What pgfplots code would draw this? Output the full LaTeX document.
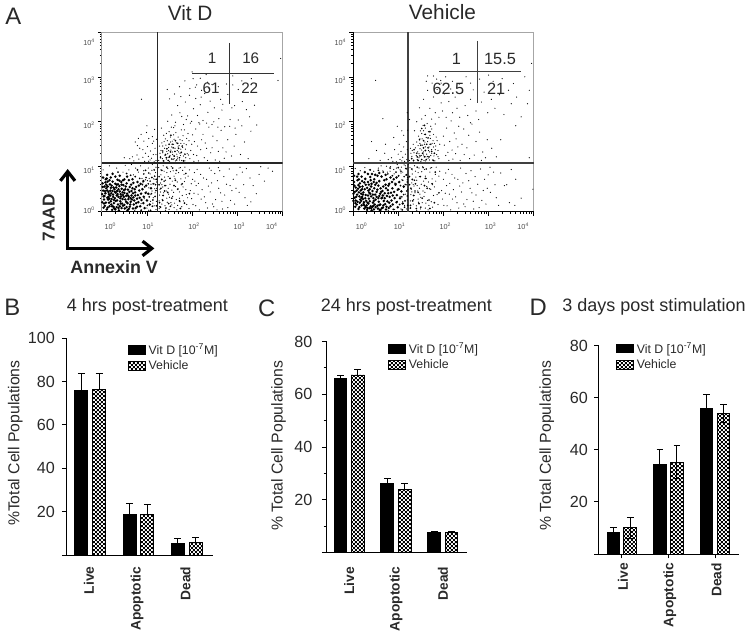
\documentclass[border=0pt]{standalone}
\usepackage{fontspec}
\setmainfont{Liberation Sans}
\usepackage{pgfplots}
\pgfplotsset{compat=1.18}
\usetikzlibrary{arrows.meta,patterns}
\pgfdeclarepatternformonly{mycheck}{\pgfqpoint{0pt}{0pt}}{\pgfqpoint{3pt}{3pt}}{\pgfqpoint{3pt}{3pt}}{
 \pgfpathrectangle{\pgfqpoint{0pt}{0pt}}{\pgfqpoint{1.5pt}{1.5pt}}
 \pgfpathrectangle{\pgfqpoint{1.5pt}{1.5pt}}{\pgfqpoint{1.5pt}{1.5pt}}
 \pgfusepath{fill}}
\definecolor{ink}{gray}{0.16}
\newcommand{\XL}[2]{\rule{#1pt}{0pt}10\textsuperscript{#2}}
\newcommand{\YL}[2]{\raisebox{#1pt}[0pt][0pt]{10\textsuperscript{#2}}}
\pgfplotsset{
 flow/.style={scale only axis,width=136.5pt,height=135.75pt,xmin=0,xmax=4,ymin=0,ymax=4,
  axis line style={gray!70,line width=.6pt},
  tick align=outside,tick pos=left,
  xtick={0,1,2,3,4},ytick={0,1,2,3,4},
  minor xtick={.301,.477,.602,.699,.778,.845,.903,.954,1.301,1.477,1.602,1.699,1.778,1.845,1.903,1.954,2.301,2.477,2.602,2.699,2.778,2.845,2.903,2.954,3.301,3.477,3.602,3.699,3.778,3.845,3.903,3.954},
  minor ytick={.301,.477,.602,.699,.778,.845,.903,.954,1.301,1.477,1.602,1.699,1.778,1.845,1.903,1.954,2.301,2.477,2.602,2.699,2.778,2.845,2.903,2.954,3.301,3.477,3.602,3.699,3.778,3.845,3.903,3.954},
  major tick length=3pt,minor tick length=1.5pt,
  tick style={black,line width=.5pt},
  xticklabels={\XL{13}{0},\XL{2}{1},\XL{3}{2},\XL{3}{3},10\textsuperscript{4}\rule{16pt}{0pt}},
  yticklabels={\YL{-1}{0},\YL{-5}{1},\YL{-5}{2},\YL{-5}{3},\YL{-10}{4}},
  ticklabel style={font=\fontsize{5.5}{6}\selectfont,text=gray!60!black,inner sep=1pt},
  xticklabel style={yshift=-4.5pt},
  yticklabel style={xshift=-1pt},
  clip=true},
 fine/.style={only marks,mark=*,mark size=.46pt,black,mark options={draw opacity=0,fill=black}},
 mid/.style={only marks,mark=*,mark size=.72pt,black,mark options={draw opacity=0,fill=black}},
 core/.style={only marks,mark=*,mark size=1.05pt,black,mark options={draw opacity=0,fill=black}},
 barax/.style={scale only axis,ybar,axis x line*=bottom,axis y line*=left,
  axis line style={black,line width=.75pt,-},tick style={black,line width=.75pt},
  tick align=outside,major tick length=3.2pt,minor tick length=2pt,
  ymin=0,xtick={0,1,2},xticklabels={Live,Apoptotic,Dead},
  x tick label style={rotate=90,anchor=east,font=\fontsize{10.4}{12}\selectfont\bfseries,text=ink},
  y tick label style={font=\fontsize{12.2}{14}\selectfont,text=ink,inner sep=2pt},
  legend cell align=left,
  legend image code/.code={\fill[##1] (0pt,-3.2pt) rectangle (13.2pt,3.2pt);},
  legend style={draw=none,fill=none,inner sep=0pt,outer sep=0pt,anchor=north west,font=\fontsize{9.3}{11}\selectfont,text=ink,row sep=-.8pt,
   /tikz/every even column/.append style={column sep=10.5pt}}},
 ylab/.style 2 args={every axis y label/.style={at={(axis description cs:#1,#2)},rotate=90,anchor=center,font=\fontsize{11.9}{14}\selectfont,text=ink}},
 vit/.style={fill=black,draw=black,line width=.75pt},
 veh/.style={pattern=mycheck,pattern color=black,draw=black,line width=.75pt},
 eb/.style={error bars/.cd,y dir=plus,y explicit,error mark options={rotate=90,mark size=#1,line width=.75pt,black},error bar style={line width=.75pt,black}},
 ebb/.style={error bars/.cd,y dir=both,y explicit,error mark options={rotate=90,mark size=#1,line width=.75pt,black},error bar style={line width=.75pt,black}},
}
\begin{document}
\begin{tikzpicture}[x=.75pt,y=.75pt]
\path (0,0) rectangle (750,633);
% ---- panel A, Vit D
\begin{axis}[flow,at={(75pt,316.5pt)},anchor=south west]
\addplot[core] coordinates {
(.31,.42)(.07,.13)(.52,.27)(.18,.61)(.44,.08)(.66,.36)(.03,.47)(.27,.19)(.39,.57)(.12,.31)(.58,.49)(.23,.04)(.71,.16)(.35,.71)(.09,.72)(.47,.37)(.62,.11)(.15,.44)(.29,.3)(.78,.29)(.41,.23)(.05,.27)(.55,.63)(.2,.53)(.33,.1)(.68,.52)(.11,.05)(.49,.48)(.25,.38)(.85,.12)
(.37,.33)(.16,.2)(.6,.33)(.02,.63)(.43,.66)(.74,.43)(.28,.5)(.5,.15)(.08,.41)(.64,.22)(.22,.28)(.36,.16)(.56,.4)(.13,.67)(.8,.37)(.46,.28)(.04,.09)(.3,.62)(.69,.07)(.19,.36)(.53,.56)(.4,.45)(.1,.52)(.76,.55)(.26,.11)(.61,.44)(.34,.25)(.88,.26)(.17,.12)(.48,.59)
(.06,.35)(.38,.03)(.72,.25)(.24,.46)(.57,.19)(.14,.27)(.42,.39)(.83,.47)(.32,.54)(.01,.21)(.65,.6)(.21,.16)(.51,.07)(.92,.19)(.1,.6)(.45,.18)(.28,.07)(.75,.08)(.37,.5)(.59,.28)(.16,.39)(.7,.32)(.06,.56)(.24,.67)(.54,.35)(.33,.36)(.81,.21)(.13,.09)(.41,.3)(.62,.55)
(.2,.23)(.47,.13)(.04,.34)(.29,.44)(.87,.4)(.36,.61)(.55,.1)(.12,.47)(.67,.27)(.25,.33)(.44,.51)(.09,.2)(.73,.5)(.34,.46)(.17,.7)(.58,.36)(.02,.55)(.4,.12)(.78,.11)(.22,.58)(.5,.42)(.31,.24)(.63,.16)(.08,.65)(.93,.33)(.43,.34)(.15,.33)(.7,.64)(.27,.26)(.57,.03)
(.11,.74)(.39,.69)(.66,.46)(.23,.12)(.52,.5)(.05,.18)(.35,.39)(.84,.31)(.46,.43)(.19,.47)(.6,.06)(.3,.05)(.76,.19)(.13,.56)(.42,.18)(.97,.42)(.26,.54)(.54,.22)(.07,.46)(.69,.41)(.37,.08)(.17,.29)(.49,.33)(.82,.58)(.33,.6)(.01,.39)(.64,.3)(.21,.41)(.44,.6)(.74,.36)
(.9,.5)(1.0,.25)(.95,.08)(1.03,.4)(.86,.62)(.98,.58)(.79,.66)(.6,.7)(.5,.72)(.3,.78)(.12,.82)(.03,.76)(.2,.76)(.4,.8)(.68,.72)(.92,.68)(1.06,.16)(1.09,.52)(.24,.84)(.56,.78)(.47,.7)};
\addplot[mid] coordinates {
(1.05,.33)(.9,.6)(1.12,.12)(.98,.76)(1.18,.34)(1.07,.68)(.84,.74)(1.15,.62)(1.01,.14)(1.2,.47)(.95,.55)(1.1,.4)(.87,.03)(1.17,.79)(1.04,.86)(.74,.78)(1.13,.26)(.93,.84)(1.21,.13)(1.08,.03)(.64,.81)(1.19,.6)(.97,.92)(.79,.93)(1.11,.76)(.55,.85)(1.03,.62)(1.16,.93)(.36,.88)(1.21,.72)
(1.28,.2)(1.4,.58)(1.33,.92)(1.52,.12)(1.36,.36)(1.63,.7)(1.27,.78)(1.46,.43)(1.72,.24)(1.31,.52)(1.57,.97)(1.42,.08)(1.78,.62)(1.3,.1)(1.55,.3)(1.38,.68)(1.68,.5)(1.44,.99)(1.86,.85)(1.35,.25)(1.6,.58)(1.48,.18)(1.94,.4)(1.27,.6)(1.74,.07)(1.51,.74)(1.39,.46)(1.83,.19)(1.65,.92)(1.33,.72)
(1.37,1.13)(1.5,1.22)(1.62,1.34)(1.44,1.4)(1.72,1.2)(1.56,1.5)(1.3,1.2)(1.66,1.15)(1.78,1.46)(1.52,1.33)(1.41,1.27)(1.6,1.24)(1.84,1.28)(1.47,1.14)(1.7,1.41)(1.35,1.35)(1.55,1.17)(1.63,1.58)(1.76,1.32)(1.49,1.5)(1.81,1.13)(1.58,1.42)(1.68,1.52)(1.43,1.2)(1.53,1.7)};
\addplot[fine] coordinates {
(.03,.93)(.17,1.02)(.24,.86)(.33,.97)(.47,.88)(.52,1.03)(.6,.93)(.66,1.05)(.7,.82)(.75,.97)(.81,.88)(.86,1.02)(.89,.74)(.93,.91)(1.01,.69)(1.03,.97)(1.07,.84)(1.09,.61)(1.11,.92)(1.12,1.05)(1.15,.73)(1.17,.51)(1.19,.87)(1.21,.66)(1.2,.99)(.99,.44)(1.04,.53)(1.07,.38)(1.11,.46)(1.14,.31)(1.18,.42)(1.21,.23)(1.16,.13)(1.08,.23)(1.0,.08)(.94,.29)(.87,.18)(1.13,.62)(1.18,.72)(1.05,.74)(.97,.71)(.91,.64)(1.21,.52)(1.04,.03)(1.13,.19)(1.2,.05)(.73,.03)(.88,.04)(.56,.03)
(.88,2.5)(.74,1.55)(.79,1.47)(.81,1.63)(.84,1.41)(.87,1.72)(.91,1.38)(.93,1.57)(.97,1.3)(.99,1.76)(1.01,1.45)(1.03,1.23)(1.04,1.63)(1.08,1.35)(1.1,1.19)(1.12,1.52)(1.14,1.27)(1.17,1.83)(1.18,1.41)(1.2,1.14)(1.21,1.61)(.62,1.18)(.5,1.2)(.71,1.13)(.82,1.17)(.95,1.12)(1.0,1.91)(1.07,1.15)(1.16,1.11)(1.2,1.27)(1.12,1.67)(1.04,1.12)(.78,1.26)(.68,1.22)(.91,1.21)(1.15,1.57)
(1.53,1.37)(1.3,1.22)(1.72,1.15)(1.41,1.62)(1.66,1.28)(1.36,1.13)(1.87,1.49)(1.47,1.21)(1.59,1.71)(1.75,1.39)(1.28,1.46)(1.63,1.13)(1.44,1.34)(1.81,1.24)(1.52,1.55)(1.69,1.66)(1.35,1.31)(1.95,1.18)(1.57,1.27)(1.78,1.58)(1.43,1.17)(1.91,1.74)(1.62,1.41)(1.33,1.53)(1.74,1.25)(1.49,1.78)(1.84,1.13)(1.55,1.44)(1.68,1.19)(1.39,1.41)(1.97,1.36)(1.6,1.61)(1.46,1.29)(1.8,1.69)(1.71,1.47)(1.26,1.14)(1.58,1.16)(1.89,1.29)(1.37,1.7)(1.65,1.53)(1.5,1.12)(1.76,1.82)(1.42,1.48)(1.93,1.58)(1.61,1.23)(1.31,1.36)(1.85,1.39)(1.54,1.88)(1.67,1.36)(1.48,1.43)(1.99,1.5)(1.73,1.6)(1.56,1.33)(1.4,1.25)(1.82,1.52)(1.64,1.76)(1.51,1.25)(1.77,1.14)(1.34,1.18)(1.7,1.33)(1.45,1.58)(1.88,1.63)(1.59,1.5)(1.79,1.43)(1.38,1.56)(1.62,1.91)(1.92,1.26)(1.52,1.66)(1.67,1.22)(1.43,1.74)(1.75,1.52)(1.29,1.3)(1.6,1.18)(1.83,1.82)(1.48,1.36)(1.69,1.44)(1.56,1.57)(1.86,1.2)(1.35,1.46)(1.73,1.3)
(2.03,1.27)(2.46,1.68)(2.14,1.13)(2.71,1.19)(2.29,1.53)(2.08,1.84)(2.58,1.34)(2.19,1.38)(2.93,1.46)(2.34,1.14)(2.05,1.56)(2.64,1.81)(2.24,1.72)(3.07,1.27)(2.41,1.31)(2.12,1.46)(2.79,1.6)(2.51,1.15)(2.17,1.95)(2.87,1.24)(2.37,1.88)(2.01,1.71)(2.68,1.42)(3.16,1.55)(2.27,1.2)(2.55,1.58)(2.1,1.25)(2.83,1.9)(2.44,1.42)(2.97,1.72)(2.21,1.6)(2.61,1.12)(2.32,1.41)(3.24,1.18)(2.75,1.33)(2.04,1.12)(2.48,2.0)
(1.32,1.86)(2.12,2.14)(1.46,2.01)(2.66,2.26)(1.55,2.15)(1.96,1.97)(3.02,2.04)(1.68,2.36)(2.35,2.21)(1.81,1.94)(2.52,2.72)(1.59,1.87)(2.88,2.31)(1.85,2.44)(2.18,2.38)(3.27,2.11)(1.94,2.59)(2.44,1.94)(1.73,2.2)(2.72,1.89)(2.03,2.29)(3.11,2.45)(2.28,2.63)(1.9,2.13)(2.59,2.07)(1.63,1.99)(2.94,2.36)(2.08,2.52)(3.38,2.37)(2.24,2.03)(2.79,2.61)(2.4,2.46)(1.99,2.01)(3.2,2.27)(2.63,2.5)(2.15,1.98)(3.43,1.93)(2.49,2.31)(3.3,1.79)(2.32,1.97)(2.07,2.77)(1.77,2.12)(2.57,1.88)(2.84,2.05)(2.95,1.86)(2.2,2.55)(3.1,1.91)(2.37,2.75)(1.87,2.05)(2.68,2.39)
(1.5,2.51)(1.45,2.72)(1.61,2.62)(1.72,2.78)(1.84,2.91)(1.95,2.74)(2.02,2.96)(2.1,2.82)(2.18,2.97)(2.21,2.7)(2.34,2.88)(2.44,2.83)(2.58,2.78)(2.76,2.84)(2.9,2.82)(3.1,2.91)(3.31,2.96)(3.42,2.84)(2.0,3.11)(2.31,3.05)(3.9,2.92)(3.96,3.41)(1.75,2.56)(3.02,2.72)(2.9,3.02)
(1.27,.07)(1.72,.44)(1.31,.82)(2.02,.16)(1.44,.3)(1.58,.91)(1.35,.55)(1.83,.67)(1.49,.05)(1.65,.27)(1.28,.37)(1.94,.93)(1.41,.7)(1.77,.11)(1.55,.48)(1.33,.17)(2.09,.58)(1.62,.74)(1.46,.96)(1.87,.38)(1.3,.64)(1.7,.87)(1.53,.2)(1.38,.9)(1.99,.29)(1.8,.55)(1.26,.98)(1.6,.09)(1.43,.46)(1.75,.73)(1.34,.27)(1.91,.79)(1.51,.61)(1.68,.14)(1.29,.5)(2.05,.87)(1.57,.34)(1.4,.13)(1.84,.99)(1.63,.56)(1.47,.78)(1.73,.22)(1.36,1.02)(1.96,.47)(1.52,.89)(1.78,.36)(1.32,.71)(1.66,.04)(1.42,.58)(1.88,.16)(1.56,.68)(1.27,.24)(1.71,.97)(1.48,.39)(2.01,.72)(1.61,.19)(1.37,.42)(1.82,.83)(1.54,1.0)(1.69,.51)(1.31,.93)(1.93,.07)(1.45,.21)(1.76,.6)(1.59,.43)(1.39,.77)(1.86,.49)(1.64,.85)(1.28,.11)(1.5,.32)(1.74,.98)(1.98,.62)(1.35,.36)(1.81,.24)(1.44,.87)(1.67,.66)(1.55,.15)(1.9,.31)(1.33,.6)(1.72,.3)(1.47,.52)(1.6,.79)(1.85,.75)(1.41,.03)(1.79,.92)(1.3,.44)
(2.13,.39)(2.76,.61)(2.34,.08)(2.19,.83)(3.04,.43)(2.52,.27)(2.08,.13)(2.91,.72)(2.43,.64)(2.27,.33)(3.22,.14)(2.61,.91)(2.14,.63)(2.85,.25)(2.38,.97)(2.67,.06)(2.22,.49)(3.11,.88)(2.48,.11)(2.04,.41)(2.97,.52)(2.56,.69)(2.3,.2)(3.35,.58)(2.72,.37)(2.16,.04)(2.82,.95)(2.4,.44)(3.17,.31)(2.59,.52)(2.25,.75)(3.48,.83)(2.94,.17)(2.11,.94)(2.66,.23)(2.36,.57)(3.28,.75)(2.79,.09)(2.5,.85)(2.2,.28)(3.06,.99)(2.63,.42)(3.6,.68)(2.88,.47)(2.45,.17)(3.42,.4)(2.7,.78)(2.32,.72)(3.78,.9)(3.14,.6)(2.55,.04)(2.99,.82)(3.52,1.0)(2.06,.68)(2.42,.92)(3.68,.97)(3.3,.22)(3.2,.96)(2.58,.98)(2.84,.58)
};
\draw[black,line width=.8pt] (rel axis cs:0,0)--(rel axis cs:0,1);
\draw[black,line width=.8pt] (rel axis cs:0,0)--(rel axis cs:1,0);
\draw[black!85,line width=1pt] (axis cs:1.23,0)--(axis cs:1.23,4);
\draw[black!85,line width=1pt] (axis cs:0,1.08)--(axis cs:4,1.08);
\end{axis}
% ---- panel A, Vehicle
\begin{axis}[flow,at={(264.75pt,316.5pt)},anchor=south west]
\addplot[core] coordinates {
(.35,.29)(.08,.16)(.57,.22)(.21,.56)(.46,.05)(.7,.41)(.04,.44)(.3,.14)(.41,.62)(.14,.34)(.61,.52)(.25,.07)(.74,.11)(.38,.77)(.1,.7)(.49,.38)(.66,.09)(.17,.47)(.33,.36)(.81,.33)(.44,.2)(.06,.25)(.58,.68)(.23,.43)(.36,.08)(.72,.6)(.12,.06)(.52,.44)(.27,.3)(.88,.16)
(.4,.34)(.18,.24)(.64,.31)(.02,.66)(.47,.72)(.77,.48)(.31,.53)(.54,.13)(.09,.38)(.68,.24)(.24,.21)(.39,.12)(.6,.4)(.15,.63)(.84,.42)(.5,.27)(.05,.11)(.33,.66)(.73,.05)(.2,.33)(.56,.58)(.43,.46)(.11,.51)(.8,.62)(.28,.1)(.65,.46)(.37,.23)(.92,.3)(.19,.14)(.52,.64)
(.07,.33)(.41,.03)(.76,.23)(.26,.5)(.6,.16)(.15,.2)(.45,.3)(.87,.52)(.34,.47)(.01,.24)(.69,.7)(.23,.17)(.55,.07)(.96,.21)(.12,.59)(.48,.16)(.31,.04)(.79,.08)(.4,.56)(.63,.3)(.18,.4)(.75,.35)(.06,.54)(.27,.73)(.58,.35)(.36,.42)(.85,.25)(.14,.1)(.44,.38)(.67,.56)
(.22,.28)(.5,.1)(.04,.31)(.32,.2)(.91,.44)(.39,.7)(.59,.04)(.13,.43)(.71,.17)(.28,.37)(.47,.52)(.1,.22)(.78,.58)(.37,.5)(.19,.78)(.62,.44)(.03,.58)(.43,.11)(.83,.12)(.25,.65)(.54,.49)(.34,.18)(.67,.14)(.09,.78)(.97,.37)(.46,.24)(.16,.27)(.74,.72)(.29,.24)(.61,.04)
(.12,.84)(.42,.84)(.7,.3)(.25,.14)(.56,.3)(.05,.19)(.38,.4)(.88,.36)(.49,.6)(.2,.5)(.64,.08)(.32,.08)(.8,.2)(.15,.55)(.45,.13)(1.0,.5)(.28,.6)(.58,.15)(.08,.47)(.73,.52)(.4,.08)(.19,.31)(.52,.33)(.86,.66)(.35,.6)(.01,.4)(.66,.36)(.22,.38)(.46,.66)(.78,.41)
(.94,.6)(1.04,.3)(.99,.1)(1.07,.45)(.9,.72)(1.02,.66)(.83,.76)(.63,.78)(.54,.8)(.33,.84)(.02,.8)(.2,.68)(.72,.82)(.96,.76)(1.1,.18)(1.12,.56)(.26,.88)(.58,.86)(.49,.82)(.13,.72)};
\addplot[mid] coordinates {
(1.08,.33)(.93,.63)(1.14,.1)(1.01,.8)(1.2,.35)(1.1,.7)(.87,.8)(1.17,.6)(1.03,.16)(1.19,.46)(.98,.48)(1.12,.38)(.89,.05)(1.18,.82)(1.06,.9)(.77,.84)(1.15,.24)(.95,.88)(1.21,.14)(1.09,.04)(.67,.88)(1.2,.66)(1.0,.98)(.82,.97)(1.13,.78)(.56,.92)(1.05,.58)(1.17,.96)(.38,.93)(1.21,.76)
(1.27,.14)(1.38,.62)(1.3,.95)(1.5,.1)(1.34,.36)(1.6,.74)(1.25,.78)(1.44,.43)(1.68,.26)(1.28,.52)(1.55,.98)(1.4,.07)(1.75,.62)(1.27,.08)(1.53,.3)(1.36,.7)(1.64,.52)(1.42,.99)(1.82,.88)(1.32,.24)(1.58,.58)(1.46,.18)(1.9,.42)(1.25,.6)(1.7,.07)(1.49,.78)(1.37,.46)(1.8,.2)(1.62,.95)(1.31,.72)
(1.34,1.14)(1.48,1.24)(1.6,1.36)(1.5,1.48)(1.68,1.22)(1.56,1.58)(1.3,1.18)(1.62,1.16)(1.72,1.5)(1.54,1.3)(1.41,1.3)(1.58,1.22)(1.8,1.3)(1.44,1.14)(1.66,1.42)(1.35,1.38)(1.52,1.16)(1.6,1.72)(1.74,1.34)(1.47,1.6)(1.78,1.14)(1.56,1.42)(1.66,1.64)(1.42,1.22)(1.52,1.85)(1.63,1.5)(1.7,1.78)(1.58,1.92)};
\addplot[fine] coordinates {
(.05,.96)(.16,.91)(.26,.98)(.36,.93)(.46,.9)(.56,.97)(.66,.91)(.76,.88)(.83,1.0)(.91,.84)(.96,.97)(1.0,.79)(1.04,.93)(1.08,.71)(1.1,.88)(1.13,1.04)(1.15,.61)(1.17,.81)(1.19,.95)(1.21,.49)(1.16,.39)(1.2,.26)(1.14,.14)(1.18,.06)(1.06,.06)(.92,.05)(.78,.02)(.98,.23)(1.04,.34)(1.12,.54)(1.2,.71)(1.07,.99)(.98,1.05)(.74,1.01)(.62,1.02)(1.16,1.02)(1.06,.86)(.9,.94)(.82,.9)(1.22,1.06)(1.03,.5)(.96,.62)(1.1,.22)
(.5,2.92)(.66,2.07)(.41,1.56)(.9,1.65)(.85,1.2)(.92,1.38)(.96,1.11)(1.0,1.28)(1.02,1.5)(1.04,1.16)(1.06,1.34)(1.08,1.8)(1.1,1.21)(1.12,1.44)(1.14,1.12)(1.16,1.28)(1.18,1.56)(1.19,1.16)(1.2,1.38)(1.21,1.81)(.6,1.14)(.7,1.3)(.78,1.16)(.72,1.5)(.52,1.36)(.35,1.18)(.98,1.9)(1.12,1.7)(.88,1.12)(1.08,1.13)
(1.52,1.37)(1.3,1.23)(1.69,1.15)(1.41,1.55)(1.63,1.28)(1.34,1.13)(1.83,1.46)(1.46,1.2)(1.58,1.72)(1.74,1.38)(1.27,1.41)(1.6,1.13)(1.43,1.33)(1.79,1.24)(1.53,1.62)(1.67,1.78)(1.35,1.31)(1.9,1.18)(1.56,1.26)(1.77,1.58)(1.42,1.16)(1.72,1.9)(1.6,1.44)(1.33,1.5)(1.72,1.25)(1.49,1.8)(1.81,1.13)(1.54,1.48)(1.66,1.19)(1.38,1.42)(1.88,1.36)(1.62,1.65)(1.46,1.29)(1.78,1.72)(1.7,1.5)(1.25,1.14)(1.57,1.14)(1.85,1.27)(1.48,1.62)(1.65,1.56)(1.5,1.12)(1.74,1.84)(1.44,1.47)(1.86,1.58)(1.61,1.22)(1.31,1.36)(1.82,1.38)(1.55,1.92)(1.67,1.36)(1.48,1.4)(1.92,1.5)(1.71,1.63)(1.56,1.33)(1.4,1.25)(1.8,1.52)(1.64,1.96)(1.51,1.25)(1.76,1.15)(1.59,1.55)(1.69,1.33)(1.45,1.68)(1.84,1.66)(1.58,1.5)(1.78,1.44)(1.52,1.74)(1.6,1.86)(1.88,1.22)(1.7,1.7)(1.65,1.23)(1.56,1.8)(1.75,1.52)(1.28,1.3)(1.82,1.95)(1.48,1.52)(1.68,1.44)(1.74,1.3)
(2.02,1.48)(2.46,1.27)(2.12,1.14)(2.72,1.56)(2.28,1.62)(2.07,1.86)(2.58,1.18)(2.19,1.37)(2.93,1.2)(2.34,1.9)(2.05,1.25)(2.63,1.95)(2.24,1.75)(3.07,1.41)(2.41,1.5)(2.14,1.56)(2.8,1.77)(2.52,1.42)(2.17,2.02)(2.87,1.33)(2.37,1.14)(2.0,1.68)(2.68,1.26)(3.17,1.22)(2.27,1.29)(2.56,1.7)(2.1,1.32)(2.84,1.14)(2.45,1.84)(2.97,1.6)(2.21,1.17)(3.27,1.6)(2.32,1.44)
(1.41,2.0)(2.12,2.45)(1.47,2.31)(2.66,2.71)(1.56,2.5)(1.95,2.42)(3.06,2.5)(1.65,2.7)(2.36,2.1)(1.82,2.2)(2.54,2.14)(1.52,2.06)(2.9,2.66)(1.86,2.72)(2.16,2.73)(3.34,2.16)(1.9,2.1)(2.42,2.66)(1.74,2.06)(2.78,2.05)(2.02,2.62)(3.14,2.3)(2.26,2.55)(1.6,2.14)(2.6,2.5)(1.7,2.3)(2.98,2.2)(2.06,2.1)(3.44,2.7)(2.2,2.2)(2.84,2.44)(2.48,2.36)(1.98,2.24)(3.24,2.6)(2.72,2.24)(1.78,2.55)(3.5,2.4)(2.3,2.3)(3.62,2.55)(3.72,2.11)(3.6,1.91)(3.86,2.4)(3.9,2.7)(1.94,2.92)(2.6,1.98)
(1.25,2.05)(1.36,1.8)(1.2,2.2)(1.75,2.86)(1.85,2.95)(1.62,2.9)(1.95,2.86)(2.05,3.0)(2.2,2.9)(2.35,2.84)(2.6,2.86)(2.8,2.95)(3.1,2.9)(3.3,2.96)(3.55,2.85)(3.8,3.0)(3.95,3.3)(1.65,3.02)(1.78,3.02)(2.5,3.0)(3.0,3.04)(3.9,1.2)(3.98,.5)
(1.27,.08)(1.72,.5)(1.31,.84)(2.01,.14)(1.44,.28)(1.58,.94)(1.35,.57)(1.83,.68)(1.49,.06)(1.65,.25)(1.28,.38)(1.92,.9)(1.41,.7)(1.76,.1)(1.55,.46)(1.33,.17)(2.07,.58)(1.62,.74)(1.46,.97)(1.86,.38)(1.3,.64)(1.7,.88)(1.53,.2)(1.38,.9)(1.98,.28)(1.8,.55)(1.26,.98)(1.6,.08)(1.43,.46)(1.75,.73)(1.34,.27)(1.9,.79)(1.51,.61)(1.68,.14)(1.29,.5)(2.05,.86)(1.57,.34)(1.4,.13)(1.84,.99)(1.63,.56)(1.47,.78)(1.73,.22)(1.36,1.02)(1.96,.47)(1.52,.89)(1.78,.36)(1.32,.71)(1.66,.04)(1.42,.58)(1.88,.16)(1.56,.68)(1.27,.24)(1.71,.97)(1.48,.39)(2.0,.72)(1.61,.19)(1.37,.42)(1.82,.83)(1.54,1.0)(1.69,.51)(1.31,.93)(1.45,.21)(1.76,.6)(1.59,.43)(1.39,.77)(1.5,.32)(1.74,.98)(1.35,.36)(1.44,.87)(1.67,.66)(1.33,.6)(1.47,.52)(1.6,.79)(1.41,.03)(1.3,.44)
(2.13,.39)(2.76,.61)(2.34,.08)(2.19,.83)(3.04,.43)(2.52,.27)(2.08,.13)(2.91,.72)(2.43,.64)(2.27,.33)(3.22,.14)(2.61,.91)(2.14,.63)(2.85,.25)(2.38,.97)(2.67,.06)(2.22,.49)(3.11,.88)(2.48,.11)(2.04,.41)(2.97,.52)(2.56,.69)(2.3,.2)(3.35,.58)(2.72,.37)(2.16,.04)(2.82,.95)(2.4,.44)(3.17,.31)(2.59,.52)(2.25,.75)(3.46,.2)(2.94,.17)(2.11,.94)(2.66,.23)(2.36,.57)(3.27,.86)(2.79,.09)(2.5,.85)(2.2,.28)(3.03,.99)(2.63,.42)(3.6,.72)(2.88,.47)(2.45,.17)(3.4,.6)(2.7,.78)(2.32,.72)(3.72,.3)(3.14,.6)(3.58,.14)(3.5,.94)(2.99,.82)
};
\draw[black,line width=.8pt] (rel axis cs:0,0)--(rel axis cs:0,1);
\draw[black,line width=.8pt] (rel axis cs:0,0)--(rel axis cs:1,0);
\draw[black!75,line width=1pt] (axis cs:1.215,0)--(axis cs:1.215,4);
\draw[black!75,line width=1pt] (axis cs:0,1.08)--(axis cs:4,1.08);
\end{axis}
% ---- panel B
\begin{axis}[barax,at={(48pt,57.2pt)},anchor=south west,width=111pt,height=163.8pt,
 xmin=-.505,xmax=2.546,ymax=100,ytick={0,20,40,60,80,100},yticklabels={,20,40,60,80,100},
 bar width=9.75pt,xtick style={draw=none},
 yticklabel style={xshift=-3pt},xticklabel style={xshift=-2pt,yshift=1pt},
 ylabel={\%Total Cell Populations},ylab={-.345}{.516},
 legend style={at={(axis cs:.773,98.8)}}]
\addplot[vit,bar shift=-6.75pt,eb=2.7pt] coordinates {(0,76)+-(0,7.5) (1,18.8)+-(0,5.2) (2,5.2)+-(0,2.6)};
\addplot[veh,bar shift=6.75pt,eb=2.7pt] coordinates {(0,76.2)+-(0,7.3) (1,18.6)+-(0,4.8) (2,5.6)+-(0,2.6)};
\addlegendentry{Vit D [10\textsuperscript{-7}M]}
\addlegendentry{Vehicle}
\end{axis}
% ---- panel C
\begin{axis}[barax,at={(244.5pt,59pt)},anchor=south west,width=106.5pt,height=159.5pt,
 xmin=-.487,xmax=2.519,ymax=80,ytick={0,20,40,60,80},yticklabels={,20,40,60,80},
 minor ytick={10,30,50,70},
 bar width=9.75pt,xtick style={draw=none},
 yticklabel style={xshift=-5pt},xticklabel style={xshift=-4pt},
 ylabel={\% Total Cell Populations},ylab={-.338}{.506},
 legend style={at={(axis cs:.825,80.6)}}]
\addplot[vit,bar shift=-6.5pt,eb=2.5pt] coordinates {(0,65.8)+-(0,1.4) (1,26.2)+-(0,2) (2,7.6)+-(0,.4)};
\addplot[veh,bar shift=6.5pt,eb=2.5pt] coordinates {(0,67.3)+-(0,2.1) (1,24)+-(0,2.2) (2,7.8)+-(0,.4)};
\addlegendentry{Vit D [10\textsuperscript{-7}M]}
\addlegendentry{Vehicle}
\end{axis}
% ---- panel D
\begin{axis}[barax,at={(450pt,58pt)},anchor=south west,width=106.3pt,height=157.5pt,
 xmin=-.5,xmax=2.515,ymax=80,ytick={0,20,40,60,80},yticklabels={,20,40,60,80},
 bar width=9.4pt,
 yticklabel style={xshift=-2.5pt},xticklabel style={yshift=-1pt},
 ylabel={\% Total Cell Populations},ylab={-.367}{.519},
 legend style={at={(axis cs:-.13,82.3)}}]
\addplot[vit,bar shift=-6.4pt,eb=2.5pt] coordinates {(0,8.4)+-(0,1.8) (1,34.4)+-(0,5.7) (2,56)+-(0,5)};
\addplot[veh,bar shift=6.4pt,ebb=2.5pt] coordinates {(0,10)+-(0,3.9) (1,35.2)+-(0,6.3) (2,53.8)+-(0,3.5)};
\addlegendentry{Vit D [10\textsuperscript{-7}M]}
\addlegendentry{Vehicle}
\end{axis}
% ---- text and annotations
\begin{scope}[text=ink]
\foreach \t/\x/\y in {A/11/619,B/10/326,C/266/325,D/539.5/326}
 \node[font=\fontsize{18}{20}\selectfont] at (\x,\y) {\t};
\node[font=\fontsize{15.7}{18}\selectfont] at (189,622) {Vit D};
\node[font=\fontsize{15.7}{18}\selectfont] at (443,623) {Vehicle};
\foreach \x/\y/\t in {146/326/4 hrs post-treatment,406.7/326/24 hrs post-treatment,656/326/3 days post stimulation}
 \node[font=\fontsize{13.6}{16}\selectfont] at (\x,\y) {\t};
\foreach \x/\y/\t in {211/576/1,250/576/16,210/546/61,249/546/22}
 \node[font=\fontsize{11.5}{14}\selectfont] at (\x,\y) {\t};
\foreach \x/\y/\t in {457/576/1,501/576/15.5,449/546/62.5,497/546/21}
 \node[font=\fontsize{12.3}{14}\selectfont] at (\x,\y) {\t};
\node[font=\fontsize{13}{15}\selectfont\bfseries,rotate=90] at (46.7,416) {7AAD};
\node[font=\fontsize{13.5}{15}\selectfont\bfseries] at (112.5,366.5) {Annexin V};
\end{scope}
\draw[black!80,line width=.6pt] (191,561)--(273,561) (229,592)--(229,530);
\draw[black!75,line width=.6pt] (440,563)--(522,563) (478,594)--(478,531);
\draw[black,line width=2.4pt,{Straight Barb[length=7pt,width=11pt]}-{Straight Barb[length=7pt,width=11pt]}] (65.7,465)--(65.7,385)--(153,385);
\end{tikzpicture}
\end{document}
